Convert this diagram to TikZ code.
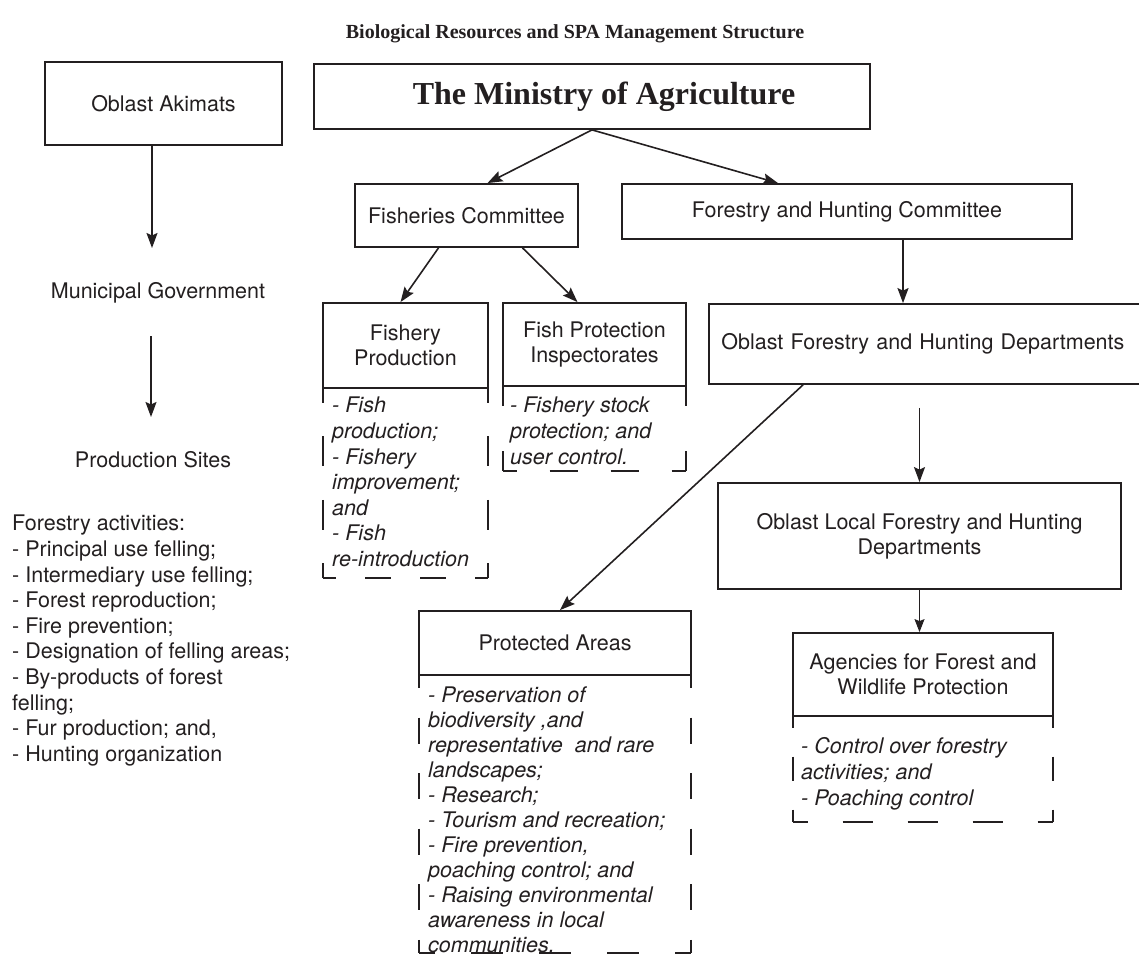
\documentclass[tikz,border=0pt]{standalone}
\usepackage{fontspec}
\setmainfont{TeX Gyre Heros}
\newfontfamily\serifbf{Liberation Serif}
\usetikzlibrary{arrows.meta,calc}

\definecolor{ink}{HTML}{231F20}
\tikzset{
	box/.style={draw=ink, line width=1.8pt, inner sep=0pt, align=center, text=ink, font=\fontsize{21.5}{25}\selectfont},
	freetext/.style={inner sep=0pt, text=ink, font=\fontsize{21.5}{25.6}\selectfont},
	notes/.style={anchor=north west, inner sep=0pt, align=left, text=ink, font=\fontsize{21.5}{25.6}\selectfont\itshape},
	dashbox/.style={draw=ink, line width=1.2pt},
	arr/.style={draw=ink, line width=1.6pt, -{Stealth[length=15pt,width=11pt,inset=2.5pt]}},
	thinarr/.style={draw=ink, line width=1pt, -{Stealth[length=13pt,width=10pt,inset=2pt]}},
}
% open dashed box under a node: node, width, depth
\newcommand\taskbox[3]{%
	\pgfmathsetmacro\tbhn{max(1,round(#3/58))}\pgfmathsetmacro\tbhp{#3/\tbhn}%
	\pgfmathsetmacro\tbhon{0.47*\tbhp}\pgfmathsetmacro\tbhoff{\tbhp-\tbhon}\pgfmathsetmacro\tbhph{\tbhon/2}%
	\pgfmathsetmacro\tbwn{max(1,round(#2/62))}\pgfmathsetmacro\tbwp{#2/\tbwn}%
	\pgfmathsetmacro\tbwon{0.47*\tbwp}\pgfmathsetmacro\tbwoff{\tbwp-\tbwon}\pgfmathsetmacro\tbwph{\tbwon/2}%
	\draw[dashbox, dash pattern=on \tbhon pt off \tbhoff pt, dash phase=\tbhph pt] ($(#1.south west)+(0.9,-0.9)$) -- ++(0,#3);
	\draw[dashbox, dash pattern=on \tbhon pt off \tbhoff pt, dash phase=\tbhph pt] ($(#1.south east)+(-0.9,-0.9)$) -- ++(0,#3);
	\draw[dashbox, dash pattern=on \tbwon pt off \tbwoff pt, dash phase=\tbwph pt] ($(#1.south west)+(0.9,#3-0.9)$) -- ++(#2,0);
}

\begin{document}
\begin{tikzpicture}[x=1pt,y=-1pt]
		\useasboundingbox (0,0) rectangle (1139,965);
		%%%%% START %%%%%
		\node[text=ink, font=\serifbf\bfseries\fontsize{20}{24}\selectfont] (title) at (575,34) {Biological Resources and SPA Management Structure};
		
		% left column
		\node[box, minimum width=237pt, minimum height=83pt] (akimats) at (163.5,103.5) {Oblast Akimats};
		\node[freetext] (mun) at (158,293) {Municipal Government};
		\node[freetext] (prod) at (153,460) {Production Sites};
		\coordinate (k1) at (152,248);
		\coordinate (k2) at (151,336);
		\draw[arr] (akimats.south -| k1) -- (k1);
		\draw[arr] (k2) -- ++(0,81);
		\node[freetext, anchor=north west, align=left] (acts) at (12,515) {Forestry activities:\\- Principal use felling;\\- Intermediary use felling;\\- Forest reproduction;\\- Fire prevention;\\- Designation of felling areas;\\- By-products of forest\\felling;\\- Fur production; and,\\- Hunting organization};
		
		% ministry and committees
		\node[box, minimum width=556pt, minimum height=65pt, font=\serifbf\bfseries\fontsize{32}{36}\selectfont] (ministry) at (592,96.5) {\hspace*{24pt}The Ministry of Agriculture};
		\node[box, minimum width=223pt, minimum height=63pt] (fishcom) at (466.5,215.5) {Fisheries Committee};
		\node[box, minimum width=450pt, minimum height=55pt] (forcom) at (847,211.5) {Forestry and Hunting Committee};
		
		\node[box, minimum width=165pt, minimum height=85pt] (fishprod) at (405.5,345.5) {Fishery\\Production};
		\node[box, minimum width=183pt, minimum height=83pt] (fishprot) at (594.5,344.5) {Fish Protection\\Inspectorates};
		\node[box, anchor=west, minimum width=445pt, minimum height=80pt, text width=420pt, align=left] (oblastdept) at (708,344) {Oblast Forestry and Hunting Departments};
		\node[box, minimum width=403pt, minimum height=106pt] (oblastlocal) at (919.5,536) {Oblast Local Forestry and Hunting\\Departments};
		\node[box, minimum width=260pt, minimum height=83pt] (agencies) at (923,674.5) {Agencies for Forest and\\Wildlife Protection};
		\node[box, minimum width=272pt, minimum height=64pt] (protected) at (555,643) {Protected Areas};
		
		% dashed task boxes
		\taskbox{fishprod}{165}{190}
		\taskbox{fishprot}{183}{85}
		\taskbox{protected}{272}{278}
		\taskbox{agencies}{260}{106}
		
		\node[notes] (fishprodtxt) at (332,397) {- Fish\\production;\\- Fishery\\improvement;\\and\\- Fish\\re-introduction};
		\node[notes] (fishprottxt) at (510,397) {- Fishery stock\\protection; and\\user control.};
		\node[notes, font=\fontsize{21.5}{25}\selectfont\itshape] (protectedtxt) at (428,687) {- Preservation of\\biodiversity ,and\\representative\ \ and rare\\landscapes;\\- Research;\\- Tourism and recreation;\\- Fire prevention,\\poaching control; and\\- Raising environmental\\awareness in local\\communities.};
		\node[notes, font=\fontsize{21.5}{26}\selectfont\itshape] (agenciestxt) at (801,737) {- Control over forestry\\activities; and\\- Poaching control};
		
		% arrows
		\draw[arr] (ministry.south) -- ($(fishcom.north)+(21,0)$);
		\draw[arr] (ministry.south) -- ($(forcom.north)+(-69,0)$);
		\draw[arr] ($(fishcom.south)+(-28,0)$) -- ($(fishprod.north)+(-5,0)$);
		\draw[arr] ($(fishcom.south)+(56,0)$) -- ($(fishprot.north)+(-17,0)$);
		\draw[arr] ($(forcom.south)+(56,0)$) -- ($(oblastdept.north west)+(195,0)$);
		\draw[arr] ($(oblastdept.south -| oblastlocal.north)+(0,23)$) -- (oblastlocal.north);
		\draw[arr] ($(oblastdept.south west)+(95,0)$) -- ($(protected.north)+(5,0)$);
		\draw[thinarr] (oblastlocal.south) -- (oblastlocal.south |- agencies.north);
		%%%%% END %%%%%
\end{tikzpicture}
\end{document}
